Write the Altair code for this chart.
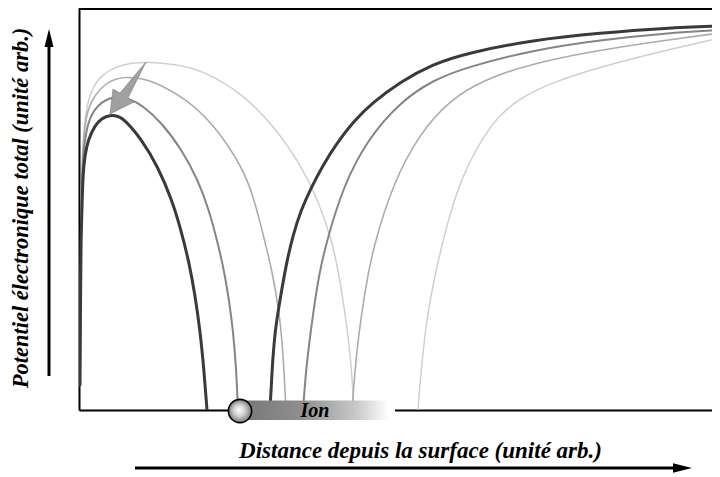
import altair as alt
import pandas as pd

# ---- Values (arbitrary units) ----
# Curve A (darkest): branch before the zero crossing and branch after it
A_left_x = [1, 1.5, 2, 3, 4, 6, 9, 16, 23, 31, 39, 46, 63, 79, 93, 102, 110, 116, 121, 125, 128]
A_left_y = [25, 110, 170, 203, 237, 255, 270, 285, 292, 295, 294, 290, 270, 243, 210, 180, 148, 115, 80, 40, 0]
A_right_x = [191, 193, 196, 201, 207, 214, 222, 232, 244, 258, 274, 293, 321, 354, 388, 454, 521, 588, 641]
A_right_y = [0, 40, 80, 110, 145, 175, 200, 222, 245, 267, 288, 307, 328, 346, 357, 370, 377, 382, 384]

# Curve B
B_left_x = [1, 1.5, 2, 3, 5, 9, 15, 23, 31, 39, 51, 63, 83, 103, 119, 130, 138, 145, 150, 154, 157, 159]
B_left_y = [25, 110, 180, 230, 265, 288, 300, 308, 312, 313, 311, 305, 287, 260, 230, 200, 170, 140, 110, 80, 45, 0]
B_right_x = [224, 227, 231, 236, 241, 248, 264, 288, 321, 354, 388, 454, 521, 588, 641]
B_right_y = [0, 40, 73, 110, 140, 170, 223, 270, 308, 330, 343, 360, 370, 377, 380]

# Curve C
C_left_x = [1, 1.5, 2, 3, 5, 9, 16, 26, 36, 46, 61, 79, 113, 139, 163, 174, 183, 193, 200, 204, 207]
C_left_y = [25, 110, 190, 240, 280, 302, 315, 326, 331, 333, 332, 327, 307, 280, 243, 215, 180, 140, 100, 60, 0]
C_right_x = [273, 276, 279, 286, 294, 314, 341, 371, 404, 454, 521, 588, 641]
C_right_y = [0, 40, 70, 120, 162, 227, 277, 310, 330, 347, 360, 370, 377]

# Curve D (lightest)
D_left_x = [1, 1.5, 2, 3, 5, 9, 15, 23, 36, 51, 69, 96, 123, 163, 196, 223, 239, 253, 261, 267, 272, 275]
D_left_y = [25, 110, 190, 250, 285, 310, 325, 335, 343, 347, 348, 346, 340, 317, 283, 243, 210, 170, 130, 90, 50, 0]
D_right_x = [339, 342, 348, 355, 364, 381, 414, 438, 471, 521, 588, 641]
D_right_y = [0, 40, 93, 130, 170, 233, 290, 310, 327, 343, 360, 372]

# Ion marker (position on the distance axis) and its trailing band
ion_x = [161]
ion_y = [0]
band_x = [159]
band_x2 = [316]
band_y = [-10]
band_y2 = [9.5]
ion_label = ["Ion"]
ion_label_x = [236]

# Arrow showing the barrier evolution
shift_arrow_x = [45]
shift_arrow_y = [322]

FONT = "Liberation Serif"
PLOT_W = 633  # the page only has room up to here; the curves are clipped at the right edge

x_scale = alt.Scale(domain=[0, PLOT_W], nice=False, zero=False)
y_scale = alt.Scale(domain=[0, 402], nice=False, zero=False)

x_axis = alt.Axis(
    title="Distance depuis la surface (unité arb.)",
    labels=False, ticks=False, grid=False,
    domain=True, domainColor="black", domainWidth=2,
    titleX=341, titleY=47, titleAlign="center", titleBaseline="alphabetic",
    titleFont=FONT, titleFontSize=23, titleFontWeight="bold",
    titleFontStyle="italic", titleColor="black", titleLimit=1000,
)
y_axis = alt.Axis(
    title="Potentiel électronique total (unité arb.)",
    labels=False, ticks=False, grid=False,
    domain=True, domainColor="black", domainWidth=2,
    titleAngle=270, titleX=-52, titleY=199.5, titleAlign="center",
    titleBaseline="alphabetic",
    titleFont=FONT, titleFontSize=22.5, titleFontWeight="bold",
    titleFontStyle="italic", titleColor="black", titleLimit=1000,
)

X = alt.X("x:Q", scale=x_scale, axis=x_axis)
Y = alt.Y("y:Q", scale=y_scale, axis=y_axis)

curves = [
    (D_left_x, D_left_y, D_right_x, D_right_y, "#cfcfcf", 1.5),
    (C_left_x, C_left_y, C_right_x, C_right_y, "#acacac", 1.6),
    (B_left_x, B_left_y, B_right_x, B_right_y, "#858585", 2.0),
    (A_left_x, A_left_y, A_right_x, A_right_y, "#3a3a3a", 3.0),
]

layers = []
for lx, ly, rx, ry, col, w in curves:
    for xs, ys in ((lx, ly), (rx, ry)):
        df = pd.DataFrame({"x": xs, "y": ys})
        layers.append(
            alt.Chart(df).mark_line(color=col, strokeWidth=w, interpolate="basis",
                                    strokeCap="round", clip=True).encode(x=X, y=Y)
        )

# Gray arrow near the maxima
arrow_path = "M0.733,-0.867 L0.133,0.333 L0.333,0.467 L-0.467,0.867 L-0.367,0.033 L-0.133,0.167 Z"
layers.append(
    alt.Chart(pd.DataFrame({"x": shift_arrow_x, "y": shift_arrow_y}))
    .mark_point(shape=arrow_path, size=3600, filled=True, fill="#a0a0a0",
                stroke="#7a7a7a", strokeWidth=0.6, opacity=1)
    .encode(x=X, y=Y)
)

# Ion band with gradient
band_df = pd.DataFrame({"x": band_x, "x2": band_x2, "y": band_y, "y2": band_y2})
layers.append(
    alt.Chart(band_df).mark_rect(
        fill=alt.LinearGradient(
            gradient="linear", x1=0, x2=1, y1=0, y2=0,
            stops=[
                alt.GradientStop(offset=0, color="#767676"),
                alt.GradientStop(offset=0.4, color="#8e8e8e"),
                alt.GradientStop(offset=0.75, color="#c8c8c8"),
                alt.GradientStop(offset=0.96, color="#ffffff"),
                alt.GradientStop(offset=1, color="#ffffff"),
            ],
        )
    ).encode(x=X, x2="x2:Q", y=Y, y2="y2:Q")
)

# Ion ball
layers.append(
    alt.Chart(pd.DataFrame({"x": ion_x, "y": ion_y}))
    .mark_point(shape="circle", size=540, filled=True, opacity=1, yOffset=1,
                fill=alt.RadialGradient(
                    gradient="radial", x1=0.45, y1=0.45, r1=0, x2=0.5, y2=0.5, r2=0.5,
                    stops=[
                        alt.GradientStop(offset=0, color="#ffffff"),
                        alt.GradientStop(offset=0.5, color="#d0d0d0"),
                        alt.GradientStop(offset=1, color="#7a7a7a"),
                    ]),
                stroke="black", strokeWidth=1.6)
    .encode(x=X, y=Y)
)

# Ion label
layers.append(
    alt.Chart(pd.DataFrame({"x": ion_label_x, "y": [0], "t": ion_label}))
    .mark_text(font=FONT, fontSize=20, fontWeight="bold", fontStyle="italic",
               align="center", baseline="alphabetic", dy=7, color="black")
    .encode(x=X, y=Y, text="t:N")
)

one = pd.DataFrame({"k": [0]})
# top frame line
layers.append(
    alt.Chart(one).mark_rule(color="black", strokeWidth=2)
    .encode(x=alt.value(0), x2=alt.value(PLOT_W), y=alt.value(1))
)
# vertical arrow (potential)
layers.append(
    alt.Chart(one).mark_rule(color="black", strokeWidth=3)
    .encode(x=alt.value(-30), y=alt.value(36), y2=alt.value(368))
)
layers.append(
    alt.Chart(one).mark_point(shape="M0,-1 L0.5,1 L-0.5,1 Z", size=324, filled=True,
                              color="black", opacity=1)
    .encode(x=alt.value(-30), y=alt.value(30))
)
# horizontal arrow (distance)
layers.append(
    alt.Chart(one).mark_rule(color="black", strokeWidth=3)
    .encode(x=alt.value(56), x2=alt.value(600), y=alt.value(460))
)
layers.append(
    alt.Chart(one).mark_point(shape="M1,0 L-1,-0.5 L-1,0.5 Z", size=361, filled=True,
                              color="black", opacity=1)
    .encode(x=alt.value(603.5), y=alt.value(460))
)

chart = (
    alt.layer(*layers)
    .properties(
        width=PLOT_W, height=402,
        autosize=alt.AutoSizeParams(type="none"),
        padding={"left": 71, "top": 0, "right": 0, "bottom": 64},
        background="white",
    )
    .configure_view(stroke=None)
)

chart.save("out.html", embed_options={"renderer": "svg", "actions": False})
